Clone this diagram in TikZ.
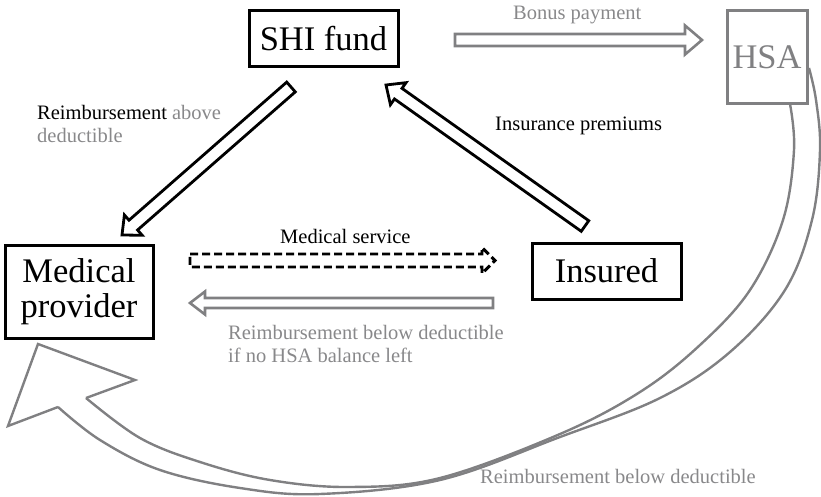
\documentclass[tikz,border=0pt]{standalone}
\usepackage{fontspec}
\setmainfont{Liberation Serif}
\usetikzlibrary{calc}
\definecolor{hgray}{RGB}{128,128,130}
\definecolor{tgray}{RGB}{136,136,138}
\newcommand\blkarrow[6]{%
  \draw[#1] ($(#2)!#4!90:(#3)$) -- ($(#3)!#6!(#2)!#4!-90:(#2)$) -- ($(#3)!#6!(#2)!#5!-90:(#2)$) -- (#3) -- ($(#3)!#6!(#2)!#5!90:(#2)$) -- ($(#3)!#6!(#2)!#4!90:(#2)$) -- ($(#2)!#4!-90:(#3)$) -- cycle;}
\begin{document}
\begin{tikzpicture}[x=1pt,y=-1pt,
  bigbox/.style={draw, line width=3pt, inner sep=0pt, font=\fontsize{34.5}{35}\selectfont},
  lbl/.style={anchor=base west, inner sep=0pt, font=\fontsize{20.5}{23.5}\selectfont},
  blackarr/.style={draw=black, line width=2.8pt, line join=miter},
  grayarr/.style={draw=hgray, line width=2.6pt, line join=miter},
  dasharr/.style={draw=black, line width=2.9pt, dash pattern=on 8pt off 4pt, line join=miter},
  curve/.style={draw=hgray, line width=2.4pt, line join=miter}]
\useasboundingbox (0,0) rectangle (821,497);
% boxes
\node[bigbox, minimum width=149pt, minimum height=56pt] (shi) at (323.5,39) {SHI fund};
\node[bigbox, draw=hgray, text=hgray, minimum width=80pt, minimum height=93pt] (hsa) at (767,57.5) {HSA};
\node[bigbox, minimum width=148pt, minimum height=93pt, align=center] (mp) at (79,291.5) {Medical\\provider};
\node[bigbox, minimum width=149pt, minimum height=56pt] (ins) at (606.5,271) {Insured};
% labels
\node[lbl, text=tgray] (lbonus) at (513,20) {Bonus payment};
\node[lbl] (lre1) at (37,120) {Reimbursement \textcolor{tgray}{above}};
\node[lbl, text=tgray] (lre2) at (37,143) {deductible};
\node[lbl] (lprem) at (495,131) {Insurance premiums};
\node[lbl] (lserv) at (280,243) {Medical service};
\node[lbl, text=tgray] (lbel1) at (228,339) {Reimbursement below deductible};
\node[lbl, text=tgray] (lbel2) at (228,362) {if no HSA balance left};
\node[lbl, text=tgray] (lbot) at (480,483) {Reimbursement below deductible};
% arrow end points
\coordinate (bonusA) at (455,40);
\coordinate (bonusB) at (702,40);
\coordinate (servA) at (190,260.5);
\coordinate (servB) at (495,260.5);
\coordinate (belA) at (493,303);
\coordinate (belB) at (190,303);
\coordinate (abvA) at (291,87);
\coordinate (abvB) at (122,235);
\coordinate (premA) at (585,226);
\coordinate (premB) at (386,85);
\blkarrow{grayarr}{bonusA}{bonusB}{6pt}{14.5pt}{17pt}
\blkarrow{dasharr}{servA}{servB}{6.5pt}{13pt}{13pt}
\blkarrow{grayarr}{belA}{belB}{5pt}{11.5pt}{15pt}
\blkarrow{blackarr}{abvA}{abvB}{6.5pt}{13.5pt}{15pt}
\blkarrow{blackarr}{premA}{premB}{6.5pt}{13.5pt}{15pt}
% curved arrow from HSA to medical provider
\draw[curve] (86,398) -- (135,380) -- (38,344) -- (8,426) -- (58,407);
\draw[curve] plot[smooth, tension=0.6] coordinates {(86,398) (140,438) (200,462) (270,480) (350,487) (440,478) (560,434) (640,392) (700,345) (750,290) (783,220) (794,150) (790,104)};
\draw[curve] plot[smooth, tension=0.6] coordinates {(58,407) (100,440) (160,470) (240,488) (320,494) (440,480) (560,437) (660,398) (730,352) (785,290) (812,220) (820,150) (816,100) (809,68)};
\end{tikzpicture}
\end{document}
